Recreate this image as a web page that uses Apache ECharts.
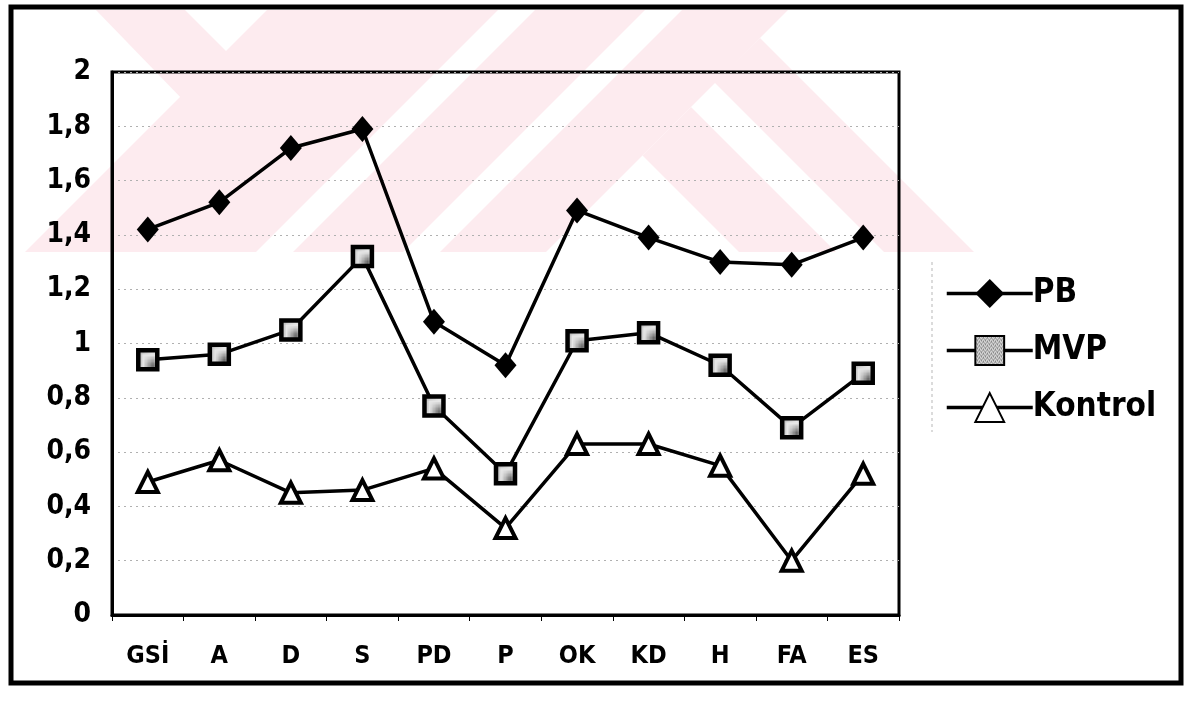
<!DOCTYPE html>
<html>
<head>
<meta charset="utf-8">
<style>
  html, body { margin: 0; padding: 0; background: #fff; }
  #chart { width: 1194px; height: 714px; }
</style>
<script src="https://cdn.jsdelivr.net/npm/echarts@6/dist/echarts.min.js"></script>
</head>
<body>
<div id="chart"></div>
<script>
// Scale categories
const categories = ['GSİ', 'A', 'D', 'S', 'PD', 'P', 'OK', 'KD', 'H', 'FA', 'ES'];

// Mean scores per group
const pbValues      = [1.42, 1.52, 1.72, 1.79, 1.08, 0.92, 1.49, 1.39, 1.30, 1.29, 1.39];
const mvpValues     = [0.94, 0.96, 1.05, 1.32, 0.77, 0.52, 1.01, 1.04, 0.92, 0.69, 0.89];
const kontrolValues = [0.49, 0.57, 0.45, 0.46, 0.54, 0.32, 0.63, 0.63, 0.55, 0.20, 0.52];

// Value axis tick labels (comma decimals)
const yTickLabels = ['0', '0,2', '0,4', '0,6', '0,8', '1', '1,2', '1,4', '1,6', '1,8', '2'];

const FONT = "'DejaVu Sans Condensed', 'DejaVu Sans', sans-serif";

// Fine grey checker used inside the square markers
function makeChecker() {
  const c = document.createElement('canvas');
  c.width = 4; c.height = 4;
  const g = c.getContext('2d');
  g.fillStyle = '#e6e6e6';
  g.fillRect(0, 0, 4, 4);
  g.fillStyle = '#6a6a6a';
  g.fillRect(0, 0, 1, 1); g.fillRect(2, 0, 1, 1);
  g.fillRect(1, 2, 1, 1); g.fillRect(3, 2, 1, 1);
  g.fillRect(0, 1, 1, 1); g.fillRect(2, 3, 1, 1);
  return c;
}

// Pale background emblem built from diagonal bands
const PINK = '#fdebef';
const emblemBands = [
  [[96, 10], [185, 10], [232, 57], [186, 103]],
  [[267, 10], [498, 10], [256, 252], [25, 252]],
  [[535, 10], [645, 10], [403, 252], [293, 252]],
  [[682, 10], [788, 10], [546, 252], [440, 252]],
  [[642.5, 155.5], [691, 107], [836, 252], [739, 252]],
  [[714.5, 82.5], [760, 38], [974, 252], [884, 252]]
];

const chart = echarts.init(document.getElementById('chart'), null, { renderer: 'canvas' });

const graphics = emblemBands.map(pts => ({
  type: 'polygon',
  z: -10,
  silent: true,
  shape: { points: pts },
  style: { fill: PINK }
}));
graphics.push({
  type: 'rect',
  z: 50,
  silent: true,
  shape: { x: 11, y: 7, width: 1170, height: 676 },
  style: { fill: null, stroke: '#000', lineWidth: 5 }
});
graphics.push({
  type: 'line',
  z: 1,
  silent: true,
  shape: { x1: 932, y1: 262, x2: 932, y2: 432 },
  style: { stroke: '#b8b8b8', lineWidth: 1, lineDash: [3, 3] }
});

const lineStyle = { color: '#000', width: 3.5 };

chart.setOption({
  animation: false,
  backgroundColor: '#fff',
  graphic: graphics,
  grid: {
    left: 112, top: 72, width: 787, height: 543,
    show: true, borderColor: '#000', borderWidth: 3,
    backgroundColor: 'transparent'
  },
  legend: {
    orient: 'vertical',
    left: 940, top: 272,
    itemWidth: 86, itemHeight: 36, itemGap: 24,
    lineStyle: { width: 3.5, color: '#000' },
    textStyle: { color: '#000', fontFamily: FONT, fontWeight: 'bold', fontSize: 33, lineHeight: 28, padding: [0, 0, 0, -5] },
    data: ['PB', 'MVP', 'Kontrol']
  },
  xAxis: {
    type: 'category',
    data: categories,
    boundaryGap: true,
    axisLine: { show: true, lineStyle: { color: '#000', width: 3 } },
    axisTick: { show: true, inside: false, length: 6, lineStyle: { color: '#000', width: 1 } },
    axisLabel: { color: '#000', fontFamily: FONT, fontWeight: 'bold', fontSize: 25, margin: 29, interval: 0 },
    splitLine: { show: false }
  },
  yAxis: {
    type: 'value',
    min: 0, max: 2, interval: 0.2,
    axisLine: { show: true, lineStyle: { color: '#000', width: 3 } },
    axisTick: { show: false },
    axisLabel: {
      color: '#000', fontFamily: FONT, fontWeight: 'bold', fontSize: 28, margin: 21,
      formatter: (v, i) => yTickLabels[i]
    },
    splitLine: { show: true, lineStyle: { color: '#b0b0b0', width: 1, type: [2, 4] } }
  },
  series: [
    {
      name: 'PB', type: 'line', data: pbValues,
      symbol: 'diamond', symbolSize: [22, 26],
      lineStyle: lineStyle,
      itemStyle: { color: '#000', borderColor: '#000', borderWidth: 0 },
      z: 5
    },
    {
      name: 'MVP', type: 'line', data: mvpValues,
      symbol: 'rect', symbolSize: 19,
      lineStyle: lineStyle,
      itemStyle: { color: { image: makeChecker(), repeat: 'repeat' }, borderColor: '#000', borderWidth: 4.5 },
      z: 4
    },
    {
      name: 'Kontrol', type: 'line', data: kontrolValues,
      symbol: 'triangle', symbolSize: [20, 20],
      lineStyle: lineStyle,
      itemStyle: { color: '#fff', borderColor: '#000', borderWidth: 4 },
      z: 3
    }
  ]
});
</script>
</body>
</html>
